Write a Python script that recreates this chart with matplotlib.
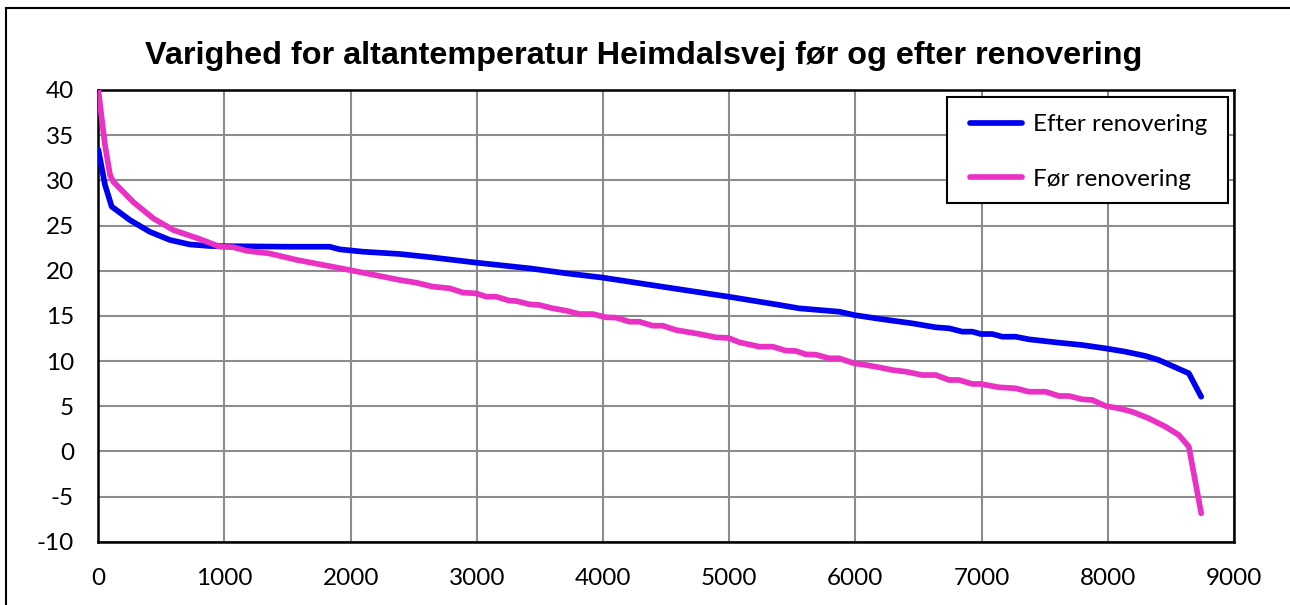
import matplotlib
matplotlib.use("Agg")
import matplotlib.pyplot as plt
from matplotlib.lines import Line2D
from matplotlib.patches import Rectangle

plt.rcParams["axes.unicode_minus"] = False

# Duration curves: hours of the year sorted by balcony temperature
efter_hours = [0, 53, 106, 251, 409, 567, 726, 884, 1517, 1834, 1913, 2098, 2388,
               2626, 2995, 3417, 3708, 3997, 4209, 4600, 4995, 5400, 5555, 5871,
               5990, 6214, 6451, 6637, 6742, 6847, 6927, 6993, 7085, 7164, 7270,
               7375, 7613, 7797, 7982, 8140, 8299, 8404, 8642, 8740]
efter_temp = [33.4, 29.5, 27.1, 25.6, 24.3, 23.4, 22.9, 22.73, 22.65, 22.65, 22.36,
              22.1, 21.85, 21.5, 20.89, 20.26, 19.71, 19.23, 18.78, 17.95, 17.12,
              16.2, 15.83, 15.46, 15.09, 14.62, 14.17, 13.73, 13.62, 13.25, 13.25,
              12.99, 12.99, 12.69, 12.69, 12.4, 12.03, 11.77, 11.4, 11.03, 10.56,
              10.11, 8.64, 6.05]

foer_hours = [0, 53, 93, 119, 277, 435, 594, 805, 963, 1069, 1175, 1359, 1570,
              1992, 2388, 2520, 2652, 2784, 2890, 2995, 3075, 3154, 3259, 3312,
              3417, 3496, 3602, 3708, 3813, 3918, 4024, 4103, 4209, 4288, 4393,
              4472, 4578, 4763, 4895, 4995, 5080, 5238, 5343, 5449, 5528, 5607,
              5687, 5792, 5871, 5990, 6082, 6188, 6293, 6399, 6531, 6637, 6742,
              6821, 6927, 6993, 7138, 7270, 7375, 7507, 7613, 7692, 7797, 7876,
              7982, 8088, 8193, 8325, 8457, 8563, 8642, 8740]
foer_temp = [40.0, 33.9, 30.6, 29.85, 27.6, 25.8, 24.5, 23.5, 22.65, 22.6, 22.2,
             21.9, 21.2, 20.07, 18.97, 18.67, 18.23, 18.05, 17.57, 17.49, 17.12,
             17.12, 16.68, 16.64, 16.28, 16.2, 15.83, 15.57, 15.2, 15.2, 14.84,
             14.8, 14.35, 14.35, 13.91, 13.91, 13.43, 12.99, 12.62, 12.55, 12.07,
             11.59, 11.59, 11.15, 11.11, 10.74, 10.7, 10.3, 10.3, 9.75, 9.56, 9.3,
             9.0, 8.82, 8.45, 8.45, 7.9, 7.9, 7.46, 7.46, 7.09, 6.98, 6.6, 6.6,
             6.13, 6.13, 5.76, 5.69, 5.02, 4.76, 4.39, 3.65, 2.73, 1.81, 0.52,
             -6.86]

series_labels = ["Efter renovering", "Før renovering"]
title_text = "Varighed for altantemperatur Heimdalsvej før og efter renovering"
x_ticks = [0, 1000, 2000, 3000, 4000, 5000, 6000, 7000, 8000, 9000]
y_ticks = [-10, -5, 0, 5, 10, 15, 20, 25, 30, 35, 40]

BLUE = "#0000F0"
PINK = "#E931C3"
GRID = "#8C8C8C"
FS = 17.5
LW = 4.1

W, H = 1290, 605
fig = plt.figure(figsize=(W / 100, H / 100), dpi=100)
fig.patch.set_facecolor("white")

# outer chart frame (top and left edges visible)
fig.add_artist(Line2D([6 / W, 6 / W], [0, 1 - 8 / H], transform=fig.transFigure,
                      color="black", lw=1.5))
fig.add_artist(Line2D([6 / W, 1], [1 - 8 / H, 1 - 8 / H], transform=fig.transFigure,
                      color="black", lw=1.5))

left, right = 98.3 / W, 1234 / W
top, bottom = 1 - 90 / H, 1 - 541.7 / H
ax = fig.add_axes([left, bottom, right - left, top - bottom])

ax.plot(efter_hours, efter_temp, color=BLUE, lw=LW, solid_capstyle="round",
        solid_joinstyle="round", label=series_labels[0], zorder=3)
ax.plot(foer_hours, foer_temp, color=PINK, lw=LW, solid_capstyle="round",
        solid_joinstyle="round", label=series_labels[1], zorder=3)

ax.set_xlim(0, 9000)
ax.set_ylim(-10, 40)
ax.set_xticks(x_ticks)
ax.set_yticks(y_ticks)
ax.grid(True, color=GRID, lw=1.5)
ax.set_axisbelow(True)
for s in ax.spines.values():
    s.set_color("black")
    s.set_linewidth(1.8)
ax.tick_params(length=0, labelsize=FS)
ax.tick_params(axis="y", pad=17.5)
ax.tick_params(axis="x", pad=19)
for lab in ax.get_xticklabels() + ax.get_yticklabels():
    lab.set_fontfamily("Lato")

fig.text(644 / W, 1 - 56 / H, title_text, ha="center", va="center",
         fontsize=23.3, fontweight="bold", family="Liberation Sans")

# legend box with white fill, drawn as its own patch
box = Rectangle((947 / W, 1 - 203 / H), 281 / W, 106 / H, transform=fig.transFigure,
                facecolor="white", edgecolor="black", lw=1.5, zorder=4)
ax.add_artist(box)
box.set_clip_on(False)

leg = ax.legend(loc="center left", bbox_to_anchor=(970 / W, 1 - 152 / H),
                bbox_transform=fig.transFigure, frameon=False,
                prop={"family": "Lato", "size": FS}, handlelength=2.15,
                labelspacing=1.38, borderpad=0, handletextpad=0.45,
                borderaxespad=0)
leg.set_zorder(5)

fig.savefig("out.png", dpi=100, facecolor="white")
